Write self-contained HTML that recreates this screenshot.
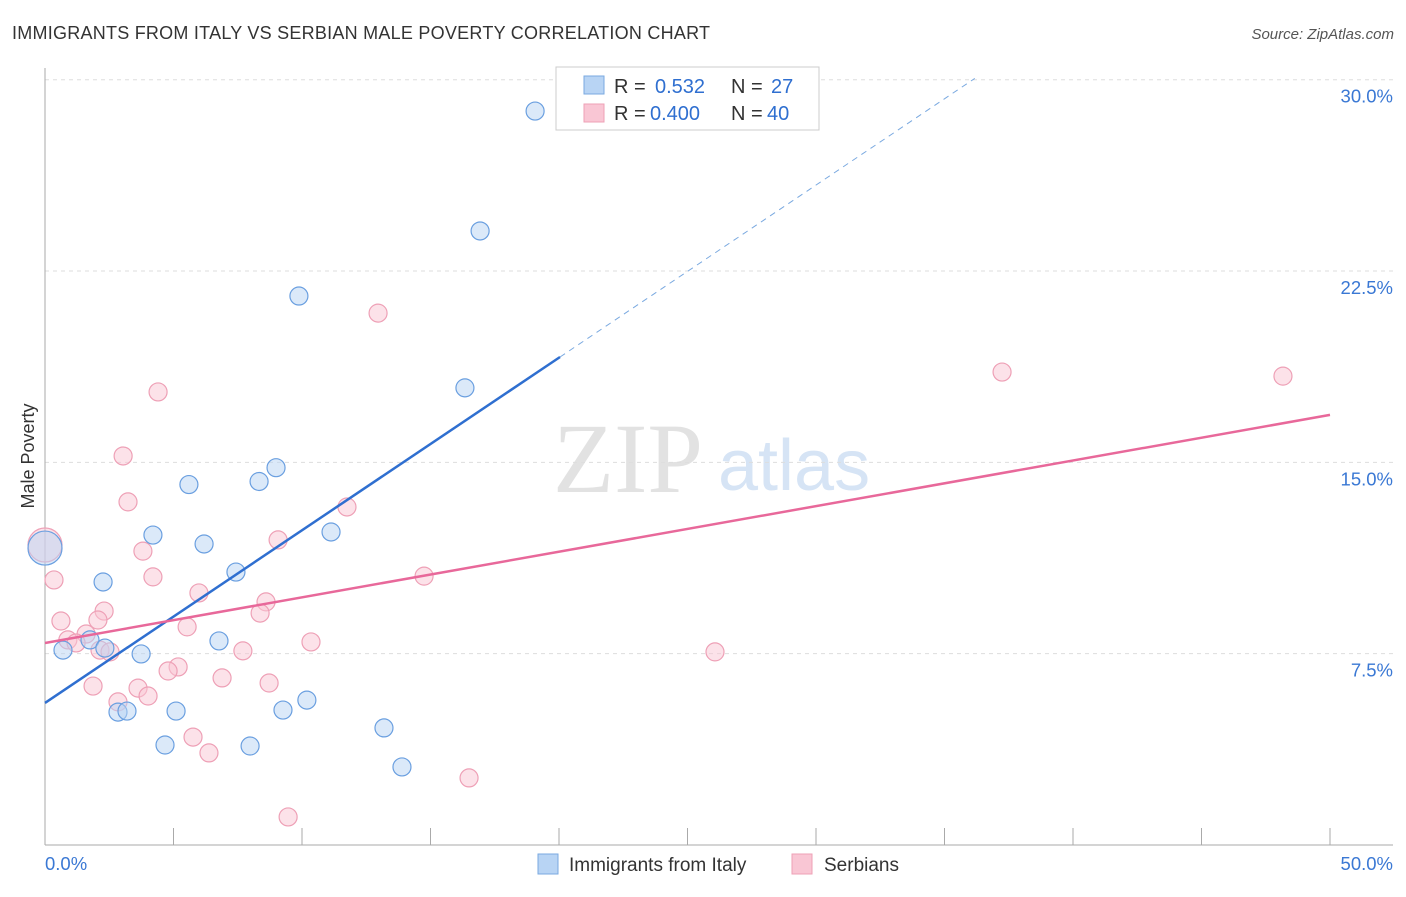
<!DOCTYPE html>
<html><head><meta charset="utf-8"><style>
body{margin:0;background:#fff;font-family:"Liberation Sans",sans-serif}
</style></head><body>
<svg id="c" width="1406" height="892" xmlns="http://www.w3.org/2000/svg">
<text x="12" y="39" font-size="18" fill="#333" textLength="698">IMMIGRANTS FROM ITALY VS SERBIAN MALE POVERTY CORRELATION CHART</text>
<text x="1394" y="39" font-size="15" fill="#555" text-anchor="end" font-style="italic">Source: ZipAtlas.com</text>
<text x="34" y="456" font-size="18" fill="#333" text-anchor="middle" transform="rotate(-90 34 456)">Male Poverty</text>
<text x="553" y="492" font-size="100" fill="#e2e2e2" font-family="Liberation Serif,serif">ZIP</text>
<text x="718" y="490" font-size="72" fill="#d6e4f5">atlas</text>
<g id="grid"></g><g id="marks"></g><g id="lines"></g>
<g>
<rect x="556" y="67" width="263" height="63" fill="#fff" stroke="#ccc"/>
<rect x="584" y="76" width="20" height="18" fill="#b8d4f4" stroke="#7aa9e0"/>
<rect x="584" y="104" width="20" height="18" fill="#f9c6d4" stroke="#eea0b6"/>
<text x="614" y="93" font-size="20" fill="#333">R = <tspan fill="#2f6fd0" x="655">0.532</tspan><tspan x="731">N =</tspan><tspan fill="#2f6fd0" x="771">27</tspan></text>
<text x="614" y="120" font-size="20" fill="#333">R = <tspan fill="#2f6fd0" x="650">0.400</tspan><tspan x="731">N =</tspan><tspan fill="#2f6fd0" x="767">40</tspan></text>
</g>
<g>
<rect x="538" y="854" width="20" height="20" fill="#b8d4f4" stroke="#7aa9e0"/>
<text x="569" y="871" font-size="19" fill="#333">Immigrants from Italy</text>
<rect x="792" y="854" width="20" height="20" fill="#f9c6d4" stroke="#eea0b6"/>
<text x="824" y="871" font-size="19" fill="#333">Serbians</text>
</g>
</svg>
<script>
const xTicks=[0,50];
const yTicks=[7.5,15,22.5,30];
const italyX=[19.07,16.93,9.88,16.34,8.99,5.60,8.33,4.20,11.13,6.19,7.43,2.26,0,1.75,0.70,2.33,3.74,6.77,10.19,9.26,2.84,3.19,5.10,13.19,4.67,7.98,13.89];
const italyY=[28.77,24.07,21.52,17.92,14.79,14.13,14.25,12.15,12.27,11.80,10.70,10.31,11.64,8.04,7.64,7.72,7.49,8.00,5.68,5.29,5.21,5.25,5.25,4.59,3.92,3.88,3.06];
const serbX=[12.96,37.24,48.17,4.40,3.04,3.23,11.75,3.81,9.07,0,0.35,4.20,14.75,5.99,2.30,8.60,0.62,2.06,8.37,5.53,1.60,0.89,1.21,2.14,2.53,10.35,7.70,26.07,5.18,4.79,6.89,1.87,8.72,3.62,4.01,2.84,5.76,6.38,16.50,9.46];
const serbY=[20.85,18.54,18.38,17.76,15.25,13.45,13.25,11.52,11.96,11.76,10.39,10.51,10.54,9.88,9.17,9.53,8.78,8.82,9.09,8.55,8.27,8.04,7.92,7.64,7.57,7.96,7.61,7.57,6.98,6.82,6.55,6.23,6.35,6.15,5.84,5.61,4.23,3.61,2.63,1.10];
const italyTrend=[5.57,19.13];
const serbTrend=[7.92,16.86];
const NS="http://www.w3.org/2000/svg";
const X=v=>45+v*25.7, Y=v=>845-v*25.51;
function mk(t,a,p){const e=document.createElementNS(NS,t);for(const k in a)e.setAttribute(k,a[k]);p.appendChild(e);return e;}
const g=document.getElementById('grid');
yTicks.forEach(t=>{
 const l=mk('line',{x1:45,x2:1393,y1:Y(t),y2:Y(t),stroke:'#ddd','stroke-dasharray':'4,4'},g);
 
 
 const tx=mk('text',{x:1393,y:Y(t)+23,'font-size':18.5,fill:'#3a78d4','text-anchor':'end'},g);
 tx.textContent=t.toFixed(1)+'%';
 
 
});
mk('line',{x1:45,x2:45,y1:68,y2:845,stroke:'#aaa'},g);
mk('line',{x1:45,x2:1393,y1:845,y2:845,stroke:'#aaa'},g);
for(let i=1;i<=10;i++){const t=mk('line',{x1:X(i*5),x2:X(i*5),y1:828,y2:845,stroke:'#aaa'},g);
 
 }
xTicks.forEach((t,i)=>{const tx=mk('text',{x:i?1393:45,y:870,'font-size':18.5,fill:'#3a78d4','text-anchor':i?'end':'start'},g);
 tx.textContent=t.toFixed(1)+'%';
 
 });
const m=document.getElementById('marks');
function pts(xs,ys,fill,stroke,name){xs.forEach((x,i)=>{const big=x===0;
 const c=mk('circle',{cx:X(x),cy:Y(ys[i]),r:big?17:9,fill:fill,'fill-opacity':0.5,stroke:stroke,'stroke-width':1.2},m);
 
 });}
pts(serbX,serbY,'#f9c6d4','#eea0b6','serbians-point');
pts(italyX,italyY,'#b8d4f4','#6a9fe0','italy-point');
const L=document.getElementById('lines');
const sl=(italyTrend[1]-italyTrend[0])/20.04;
const a=mk('line',{x1:X(0),y1:Y(italyTrend[0]),x2:X(20.04),y2:Y(italyTrend[1]),stroke:'#2f6fd0','stroke-width':2.5},L);


const xe=(30.05-italyTrend[0])/sl;
const b=mk('line',{x1:X(20.04),y1:Y(italyTrend[1]),x2:X(xe),y2:Y(30.05),stroke:'#7aa9e0','stroke-width':1,'stroke-dasharray':'6,5'},L);


const s=mk('line',{x1:X(0),y1:Y(serbTrend[0]),x2:X(50),y2:Y(serbTrend[1]),stroke:'#e8689a','stroke-width':2.5},L);


</script>
</body></html>
